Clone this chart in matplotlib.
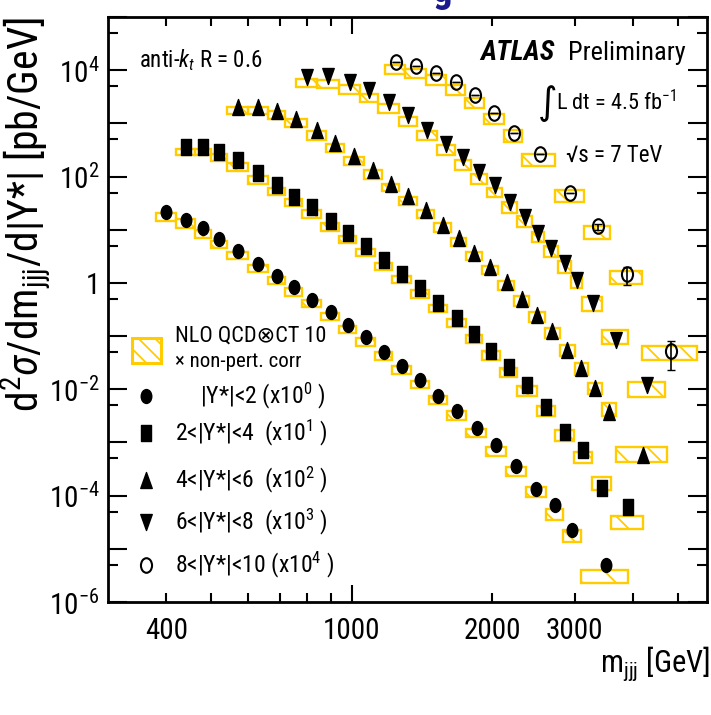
import numpy as np
import matplotlib
matplotlib.use("Agg")
import matplotlib.pyplot as plt
from matplotlib import font_manager as fm
from matplotlib.patches import Rectangle
from matplotlib.path import Path
from matplotlib.ticker import FixedLocator, FuncFormatter

# narrow sans for all labels, DejaVu only for the odd symbols
installed = {f.name for f in fm.fontManager.ttflist}
NARROW = next(n for n in ["Roboto Condensed", "Fira Sans Condensed", "Archivo Narrow",
                          "DejaVu Sans"] if n in installed)
plt.rcParams["font.family"] = [NARROW, "DejaVu Sans"]
plt.rcParams["mathtext.fontset"] = "custom"
plt.rcParams["mathtext.rm"] = NARROW
plt.rcParams["mathtext.it"] = NARROW + ":italic"
plt.rcParams["mathtext.bf"] = NARROW + ":bold"
plt.rcParams["hatch.linewidth"] = 1.3

GOLD = "#ffcc00"

# bin edges in m_jjj [GeV], cross sections in pb/GeV (unscaled)
edges_y2 = [380, 420, 460, 500, 540, 600, 660, 720, 780, 860, 940, 1020, 1120, 1220,
            1340, 1460, 1600, 1760, 1940, 2140, 2360, 2600, 2840, 3100, 3900]
data_y2 = [21.4, 15.3, 10.7, 6.65, 4.01, 2.25, 1.36, 0.845, 0.488, 0.280, 0.163, 0.0942,
           0.0507, 0.028, 0.0151, 0.00755, 0.00394, 0.00191, 8.93e-4, 3.54e-4, 1.35e-4,
           6.75e-5, 2.29e-5, 5.02e-6]
nlo_lo_y2 = [14.7, 10.7, 7.13, 4.51, 2.80, 1.60, 0.949, 0.579, 0.348, 0.198, 0.114, 0.0658,
             0.0359, 0.0195, 0.0104, 0.00533, 0.00267, 0.00126, 5.46e-4, 2.30e-4, 9.25e-5,
             3.52e-5, 1.34e-5, 2.28e-6]
nlo_hi_y2 = [20.5, 15.7, 9.96, 6.18, 3.79, 2.19, 1.32, 0.798, 0.481, 0.274, 0.158, 0.0902,
             0.0492, 0.0277, 0.0146, 0.00764, 0.00383, 0.00181, 8.20e-4, 3.45e-4, 1.45e-4,
             5.68e-5, 2.22e-5, 4.05e-6]

edges_y4 = [420, 460, 500, 540, 600, 660, 720, 780, 860, 940, 1020, 1120, 1220, 1340, 1460,
            1600, 1760, 1900, 2080, 2260, 2490, 2730, 2990, 3270, 3590, 4210]
data_y4 = [36.5, 36.0, 29.1, 20.3, 11.7, 6.89, 4.15, 2.64, 1.43, 0.863, 0.505, 0.272, 0.148,
           0.0794, 0.0415, 0.0215, 0.0110, 0.00533, 0.00259, 0.00119, 4.69e-4, 1.60e-4,
           7.13e-5, 1.41e-5, 6.14e-6]
nlo_lo_y4 = [25.2, 25.0, 19.5, 12.8, 7.38, 4.47, 2.78, 1.69, 0.966, 0.560, 0.323, 0.176,
             0.0991, 0.0532, 0.0278, 0.0148, 0.00738, 0.00359, 0.00172, 7.55e-4, 3.10e-4,
             1.08e-4, 4.08e-5, 1.29e-5, 2.36e-6]
nlo_hi_y4 = [33.6, 33.0, 27.1, 18.1, 10.2, 6.21, 3.86, 2.34, 1.33, 0.768, 0.443, 0.242, 0.136,
             0.0741, 0.0387, 0.0209, 0.0106, 0.00514, 0.00248, 0.00116, 4.79e-4, 1.73e-4,
             6.61e-5, 2.23e-5, 4.19e-6]

edges_y6 = [540, 600, 660, 720, 800, 880, 960, 1060, 1160, 1260, 1380, 1500, 1630, 1760,
            1900, 2060, 2230, 2400, 2590, 2790, 3000, 3200, 3440, 3680, 4730]
data_y6 = [20.4, 20.4, 17.2, 12.0, 7.45, 4.30, 2.42, 1.32, 0.738, 0.428, 0.234, 0.125, 0.0713,
           0.0371, 0.0203, 0.0103, 0.00494, 0.00254, 0.00123, 5.48e-4, 2.48e-4, 1.07e-4,
           3.78e-5, 5.77e-6]
nlo_lo_y6 = [14.9, 14.9, 12.3, 8.60, 4.96, 2.91, 1.68, 0.916, 0.532, 0.298, 0.164, 0.0914,
             0.0498, 0.0272, 0.0148, 0.00741, 0.00371, 0.00188, 9.17e-4, 4.27e-4, 1.87e-4,
             8.13e-5, 3.10e-5, 4.29e-6]
nlo_hi_y6 = [20.4, 20.4, 17.0, 12.0, 7.13, 4.17, 2.34, 1.32, 0.738, 0.415, 0.234, 0.132,
             0.0713, 0.0389, 0.0212, 0.0109, 0.00573, 0.00290, 0.00141, 6.86e-4, 3.10e-4,
             1.34e-4, 5.51e-5, 8.13e-6]

edges_y8 = [760, 840, 940, 1040, 1140, 1260, 1380, 1520, 1660, 1800, 1950, 2100, 2260, 2430,
            2580, 2770, 2950, 3120, 3440, 3910, 4690]
data_y8 = [7.48, 7.72, 6.03, 4.32, 2.54, 1.43, 0.745, 0.417, 0.234, 0.122, 0.0689, 0.0334,
           0.0177, 0.00885, 0.00451, 0.00233, 0.00114, 4.15e-4, 8.45e-5, 1.21e-5]
nlo_lo_y8 = [4.85, 4.71, 3.63, 2.54, 1.58, 0.898, 0.483, 0.259, 0.135, 0.0738, 0.0415, 0.0208,
             0.0115, 0.00585, 0.00305, 0.00157, 7.98e-4, 3.03e-4, 7.16e-5, 7.13e-6]
nlo_hi_y8 = [6.95, 6.65, 5.22, 3.63, 2.30, 1.32, 0.713, 0.389, 0.203, 0.111, 0.0613, 0.0327,
             0.0182, 0.00925, 0.00498, 0.00260, 0.00136, 5.41e-4, 1.31e-4, 1.40e-5]

edges_y10 = [1180, 1300, 1440, 1590, 1750, 1920, 2120, 2320, 2730, 3150, 3580, 4180, 5500]
data_y10 = [1.43, 1.19, 0.890, 0.603, 0.339, 0.160, 0.0663, 0.0264, 0.00500, 0.00116,
            1.48e-4, 5.14e-6]
err_y10 = [0, 0, 0, 0, 0, 0, 0, 0, 0, 1.5e-4, 5.5e-5, 2.8e-6]
nlo_lo_y10 = [0.841, 0.717, 0.522, 0.339, 0.196, 0.0991, 0.0449, 0.0159, 0.00334, 6.74e-4,
              9.62e-5, 3.59e-6]
nlo_hi_y10 = [1.24, 1.07, 0.806, 0.522, 0.306, 0.153, 0.0745, 0.0271, 0.00555, 0.00118,
              1.71e-4, 6.65e-6]

scales = [1, 10, 100, 1000, 10000]
legend_labels = [r"|Y*|<2 (x10$^{0}$ )", r"2<|Y*|<4  (x10$^{1}$ )", r"4<|Y*|<6  (x10$^{2}$ )",
                 r"6<|Y*|<8  (x10$^{3}$ )", r"8<|Y*|<10 (x10$^{4}$ )"]


def closed(verts):
    verts = list(verts) + [verts[0]]
    codes = [Path.MOVETO] + [Path.LINETO] * (len(verts) - 2) + [Path.CLOSEPOLY]
    return Path(verts, codes)


# slightly tall marker shapes
circ = Path.unit_circle()
m_circle = Path(circ.vertices * [0.76, 1.0], circ.codes)
m_square = closed([(-0.68, -1), (0.68, -1), (0.68, 1), (-0.68, 1)])
m_up = closed([(0, 1), (-0.72, -1), (0.72, -1)])
m_down = closed([(0, -1), (-0.72, 1), (0.72, 1)])

styles = [
    dict(marker=m_circle, ms=10, mfc="black"),
    dict(marker=m_square, ms=11, mfc="black"),
    dict(marker=m_up, ms=11.5, mfc="black"),
    dict(marker=m_down, ms=11.5, mfc="black"),
    dict(marker=m_circle, ms=10.5, mfc="none", mew=1.5),
]

series = [
    (edges_y2, data_y2, nlo_lo_y2, nlo_hi_y2, None),
    (edges_y4, data_y4, nlo_lo_y4, nlo_hi_y4, None),
    (edges_y6, data_y6, nlo_lo_y6, nlo_hi_y6, None),
    (edges_y8, data_y8, nlo_lo_y8, nlo_hi_y8, None),
    (edges_y10, data_y10, nlo_lo_y10, nlo_hi_y10, err_y10),
]

fig = plt.figure(figsize=(7.11, 7.15), dpi=100)
ax = fig.add_axes([0.1519, 0.158, 0.8425, 0.8182])
ax.set_xscale("log")
ax.set_yscale("log")
ax.set_xlim(300, 5770)
ax.set_ylim(1e-6, 1e5)

for (edges, data, lo, hi, err), scale, st in zip(series, scales, styles):
    edges = np.asarray(edges, float)
    lo = np.asarray(lo) * scale
    hi = np.asarray(hi) * scale
    for j in range(len(data)):
        ax.add_patch(Rectangle((edges[j], lo[j]), edges[j + 1] - edges[j], hi[j] - lo[j],
                               facecolor="none", edgecolor=GOLD, hatch="\\", lw=1.7,
                               zorder=2))
    xc = 0.5 * (edges[:-1] + edges[1:])
    y = np.asarray(data) * scale
    if err is not None:
        ax.errorbar(xc, y, yerr=np.asarray(err) * scale, fmt="none", ecolor="black",
                    elinewidth=1.2, capsize=3, zorder=3)
    ax.plot(xc, y, ls="none", mec="black", zorder=4, **st)

# axes and ticks
ax.xaxis.set_major_locator(FixedLocator([1000]))
ax.xaxis.set_minor_locator(FixedLocator([400, 500, 600, 700, 800, 900, 2000, 3000, 4000, 5000]))
ax.xaxis.set_major_formatter(FuncFormatter(lambda v, p: "%d" % v))
ax.xaxis.set_minor_formatter(FuncFormatter(
    lambda v, p: "%d" % v if int(round(v)) in (400, 2000, 3000) else ""))

ax.yaxis.set_major_locator(FixedLocator([10.0 ** k for k in range(-6, 6)]))
ax.yaxis.set_minor_locator(FixedLocator([5 * 10.0 ** k for k in range(-7, 5)]))


def ylab(v, p):
    k = int(round(np.log10(v)))
    if k % 2:
        return ""
    return "1" if k == 0 else r"$10^{%d}$" % k


ax.yaxis.set_major_formatter(FuncFormatter(ylab))
ax.yaxis.set_minor_formatter(FuncFormatter(lambda v, p: ""))

ax.tick_params(which="both", direction="in", top=True, right=True, width=1.5,
               labelsize=21)
ax.tick_params(axis="x", which="major", length=12.5, pad=11)
ax.tick_params(axis="x", which="minor", length=6.5, pad=11)
ax.tick_params(axis="y", which="major", length=13.5, pad=6)
ax.tick_params(axis="y", which="minor", length=7.5, pad=6)
for sp in ax.spines.values():
    sp.set_linewidth(2)

ax.set_ylabel(r"d$^{2}\sigma$/dm$_{\rm jjj}$/d|Y*| [pb/GeV]", fontsize=30, loc="top")
ax.yaxis.set_label_coords(-0.091, 1.0)
ax.set_xlabel(r"m$_{\rm jjj}$ [GeV]", fontsize=22, loc="right")
ax.xaxis.set_label_coords(1.005, -0.072)

# annotations
ax.text(0.0518, 0.9145, r"anti-$k_t$ R = 0.6", transform=ax.transAxes, fontsize=16.5)
ax.text(0.621, 0.9265, "ATLAS", transform=ax.transAxes, fontsize=20,
        fontweight="bold", fontstyle="italic")
ax.text(0.768, 0.9265, "Preliminary", transform=ax.transAxes, fontsize=19)
ax.text(0.717, 0.835, "\u222b", transform=ax.transAxes, fontsize=27,
        family=["DejaVu Sans"])
ax.text(0.748, 0.841, r"L dt = 4.5 fb$^{-1}$", transform=ax.transAxes, fontsize=16)
ax.text(0.765, 0.752, "\u221as = 7 TeV", transform=ax.transAxes, fontsize=16.5)
fig.text(0.623, 0.9972, "g", color="#1a1a8c", fontsize=28, fontweight="bold",
         ha="center", va="baseline")

# legend
ax.add_patch(Rectangle((0.0396, 0.4085), 0.0489, 0.0428, transform=ax.transAxes,
                       facecolor="none", edgecolor=GOLD, hatch="\\\\", lw=2.2,
                       clip_on=False))
ax.text(0.1119, 0.4547, "NLO QCD\u2297CT 10", transform=ax.transAxes, fontsize=16,
        va="center")
ax.text(0.1119, 0.412, "\u00d7 non-pert. corr", transform=ax.transAxes, fontsize=15,
        va="center")
leg_y = [0.3526, 0.2894, 0.2085, 0.1373, 0.0632]
leg_x = [0.1536, 0.1119, 0.1119, 0.1119, 0.1119]
for st, lab, yy, xx in zip(styles, legend_labels, leg_y, leg_x):
    ax.plot([0.0629], [yy], ls="none", mec="black", transform=ax.transAxes,
            clip_on=False, **st)
    ax.text(xx, yy, lab, transform=ax.transAxes, fontsize=17, va="center")

fig.savefig("out.png", dpi=100)
